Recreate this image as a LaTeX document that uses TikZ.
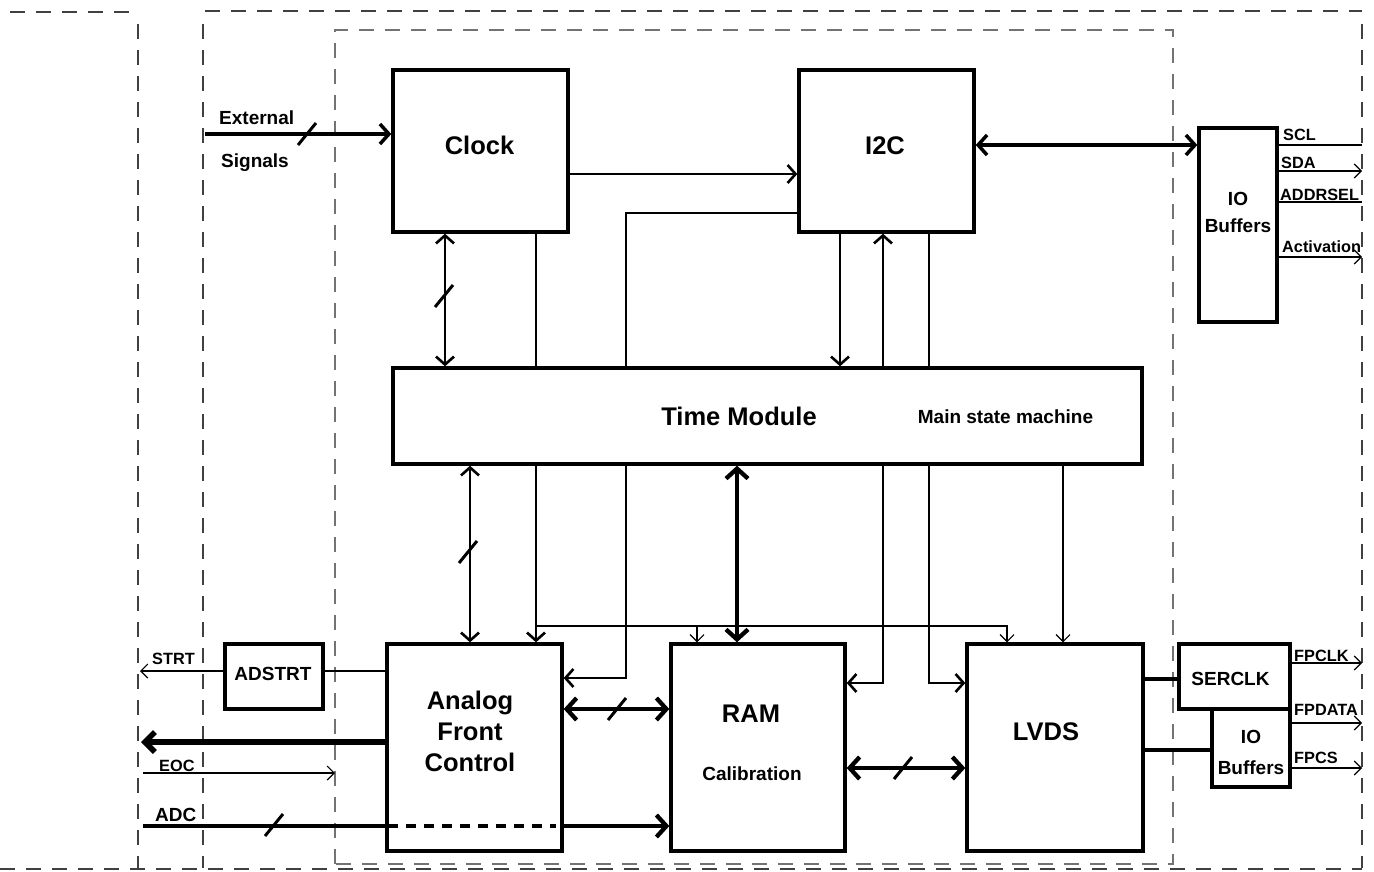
\documentclass[tikz,border=0pt]{standalone}
\usepackage{fontspec}
\setmainfont{Liberation Sans}
\usetikzlibrary{arrows.meta,positioning,calc}

\begin{document}
\begin{tikzpicture}[
  x=1pt,y=-1pt,
  %% Blocks: plain thick rectangles, text placed separately
  block/.style={draw,line width=3.4pt,rectangle,inner sep=0pt},
  bigtxt/.style={font=\fontsize{25.5}{31}\selectfont\bfseries,align=center,inner sep=0pt},
  midtxt/.style={font=\fontsize{19}{27}\selectfont\bfseries,align=center,inner sep=0pt},
  pintxt/.style={font=\fontsize{16.3}{18}\selectfont\bfseries,inner sep=0pt,anchor=base west},
  %% Connectors
  bus/.style={line width=3.5pt,>={Straight Barb[length=9pt,width=20pt]}},
  hbus/.style={line width=4.3pt,>={Straight Barb[length=10pt,width=22pt]}},
  fat/.style={line width=5.5pt,line cap=round,>={Straight Barb[length=10pt,width=20pt]}},
  wire/.style={line width=2.6pt,>={Straight Barb[length=8pt,width=18pt]}},
  thin/.style={line width=1.1pt,>={Straight Barb[length=7pt,width=14pt]}},
  busmark/.style={line width=3pt},
  %% Dashed frames
  outframe/.style={black!75,line width=1.3pt,dash pattern=on 15pt off 11pt},
  inframe/.style={black!55,line width=1.3pt,dash pattern=on 15pt off 11pt}
]
\newcommand{\busmark}[1]{\draw[busmark] (#1) ++(-9,11) -- ++(18,-22);}

\useasboundingbox (0,0) rectangle (1374,871);

%% ---- FRAMES ----
\draw[outframe] (10,12) -- (133,12);
\draw[outframe] (205,11) -- (1362,11);
\draw[outframe] (138,24) -- (138,868);
\draw[outframe] (203,24) -- (203,868);
\draw[outframe] (1362,24) -- (1362,868);
\draw[outframe] (0,869) -- (1362,869);
\draw[inframe] (335,864) -- (335,30) -- (1173,30) -- (1173,864) -- cycle;

%% ---- BLOCKS ----
\node[block,minimum width=175,minimum height=162] (clock) at (480.5,151) {};
\node[block,minimum width=175,minimum height=162] (i2c) at (886.5,151) {};
\node[block,minimum width=78,minimum height=194] (iobuf) at (1238,225) {};
\node[block,minimum width=749,minimum height=96] (tm) at (767.5,416) {};
\node[block,minimum width=175,minimum height=207] (afc) at (474.5,747.5) {};
\node[block,minimum width=174,minimum height=207] (ram) at (758,747.5) {};
\node[block,minimum width=176,minimum height=207] (lvds) at (1055,747.5) {};
\node[block,minimum width=98,minimum height=65] (adstrt) at (274,676.5) {};
\node[block,minimum width=78,minimum height=78] (iobufb) at (1251,748) {};
\node[block,minimum width=111,minimum height=65] (serclk) at (1234.5,676.5) {};

%% ---- BLOCK TEXTS ----
\node[bigtxt,anchor=base] (clock-t) at (479.5,154) {Clock};
\node[bigtxt,anchor=base] (i2c-t) at (885,154) {I2C};
\node[bigtxt,anchor=base] (tm-t) at (739,425) {Time Module};
\node[midtxt,anchor=base] (tm-s) at (1005.5,423) {Main state machine};
\node[bigtxt,anchor=base] (ram-t) at (751,722) {RAM};
\node[midtxt,anchor=base] (ram-s) at (752,780) {Calibration};
\node[bigtxt,anchor=base] (lvds-t) at (1046,740) {LVDS};
\node[bigtxt] (afc-t) at (470,731) {Analog\\Front\\Control};
\node[midtxt,anchor=base] (adstrt-t) at (273,680) {ADSTRT};
\node[midtxt,anchor=base] (serclk-t) at (1230.5,685) {SERCLK};
\node[midtxt] (iobuf-t) at (1238,212) {IO\\Buffers};
\node[midtxt,font=\fontsize{19}{31}\selectfont\bfseries] (iobufb-t) at (1251,752.5) {IO\\Buffers};

%% ---- EXTERNAL SIGNALS ----
\coordinate (ext) at (205,134);
\draw[bus,->] (ext) -- (clock.west |- ext);
\busmark{307,134}
\node[midtxt,anchor=base west] (ext-t) at (219,124) {External};
\node[midtxt,anchor=base west] (sig-t) at (221,167) {Signals};

%% ---- CLOCK / I2C / TIME MODULE ----
\draw[wire,->] (clock.east |- 0,174) -- (i2c.west |- 0,174);
\draw[wire] (i2c.west |- 0,213) -| (tm.north -| 626,0);
\draw[wire,<->] (445,0 |- clock.south) -- (445,0 |- tm.north);
\busmark{444,296}
\draw[wire] (536,0 |- clock.south) -- (536,0 |- tm.north);
\draw[wire,->] (840,0 |- i2c.south) -- (840,0 |- tm.north);
\draw[wire,->] (883,0 |- tm.north) -- (883,0 |- i2c.south);
\draw[wire] (929,0 |- i2c.south) -- (929,0 |- tm.north);
\draw[bus,<->] (i2c.east |- 0,145) -- (iobuf.west |- 0,145);

%% ---- I2C PINS ----
\draw[thin] (iobuf.east |- 0,145) -- (1362,145);
\draw[thin,->] (iobuf.east |- 0,171) -- (1362,171);
\draw[thin] (iobuf.east |- 0,202) -- (1362,202);
\draw[thin,->] (iobuf.east |- 0,257) -- (1362,257);
\node[pintxt] (scl) at (1283,140) {SCL};
\node[pintxt] (sda) at (1281,168) {SDA};
\node[pintxt] (addr) at (1280,200) {ADDRSEL};
\node[pintxt] (act) at (1282,252) {Activation};

%% ---- TIME MODULE -> LOWER BLOCKS ----
\draw[wire,<->] (470,0 |- tm.south) -- (470,0 |- afc.north);
\busmark{468,552}
\draw[wire,->] (536,0 |- tm.south) -- (536,0 |- afc.north);
\coordinate (tap) at (536,626);
\draw[thin,->] (tap) -| (lvds.north -| 1007,0);
\draw[thin,->] (697,0 |- tap) -- (697,0 |- ram.north);
\draw[wire,->] (626,0 |- tm.south) |- (afc.east |- 0,678);
\draw[hbus,<->] (737,0 |- tm.south) -- (737,0 |- ram.north);
\draw[wire,->] (883,0 |- tm.south) |- (ram.east |- 0,683);
\draw[wire,->] (929,0 |- tm.south) |- (lvds.west |- 0,683);
\draw[thin,->] (1063,0 |- tm.south) -- (1063,0 |- lvds.north);

%% ---- DATA PATH ----
\draw[hbus,<->] (afc.east |- 0,709) -- (ram.west |- 0,709);
\busmark{617,709}
\draw[hbus,<->] (ram.east |- 0,768) -- (lvds.west |- 0,768);
\busmark{903,768}
\draw[bus] (lvds.east |- 0,679) -- (serclk.west |- 0,679);
\draw[bus] (lvds.east |- 0,750) -- (iobufb.west |- 0,750);

%% ---- LVDS PINS ----
\draw[thin,->] (serclk.east |- 0,663) -- (1362,663);
\draw[thin,->] (iobufb.east |- 0,723) -- (1362,723);
\draw[thin,->] (iobufb.east |- 0,768) -- (1362,768);
\node[pintxt] (fpclk) at (1294,661) {FPCLK};
\node[pintxt] (fpdata) at (1294,715) {FPDATA};
\node[pintxt] (fpcs) at (1294,763) {FPCS};

%% ---- ADC SIDE ----
\coordinate (strt) at (140,671);
\draw[thin] (afc.west |- strt) -- (adstrt.east |- strt);
\draw[thin,->] (adstrt.west |- strt) -- (strt);
\node[pintxt] (strt-t) at (152,664) {STRT};
\coordinate (cout) at (141,742);
\draw[fat,->] (afc.west |- cout) -- (cout);
\coordinate (eoc-a) at (143,773);
\coordinate (eoc-b) at (335,773);
\draw[thin,->] (eoc-a) -- (eoc-b);
\node[pintxt] (eoc-t) at (159,771) {EOC};
\coordinate (adc) at (143,826);
\draw[hbus] (adc) -- (afc.west |- adc);
\draw[hbus,dash pattern=on 10pt off 8pt] ([xshift=3]afc.west |- adc) -- ([xshift=-8]afc.east |- adc);
\draw[hbus,->] (afc.east |- adc) -- (ram.west |- adc);
\busmark{274,825}
\node[midtxt,anchor=base west] (adc-t) at (155,821) {ADC};

\end{tikzpicture}
\end{document}
